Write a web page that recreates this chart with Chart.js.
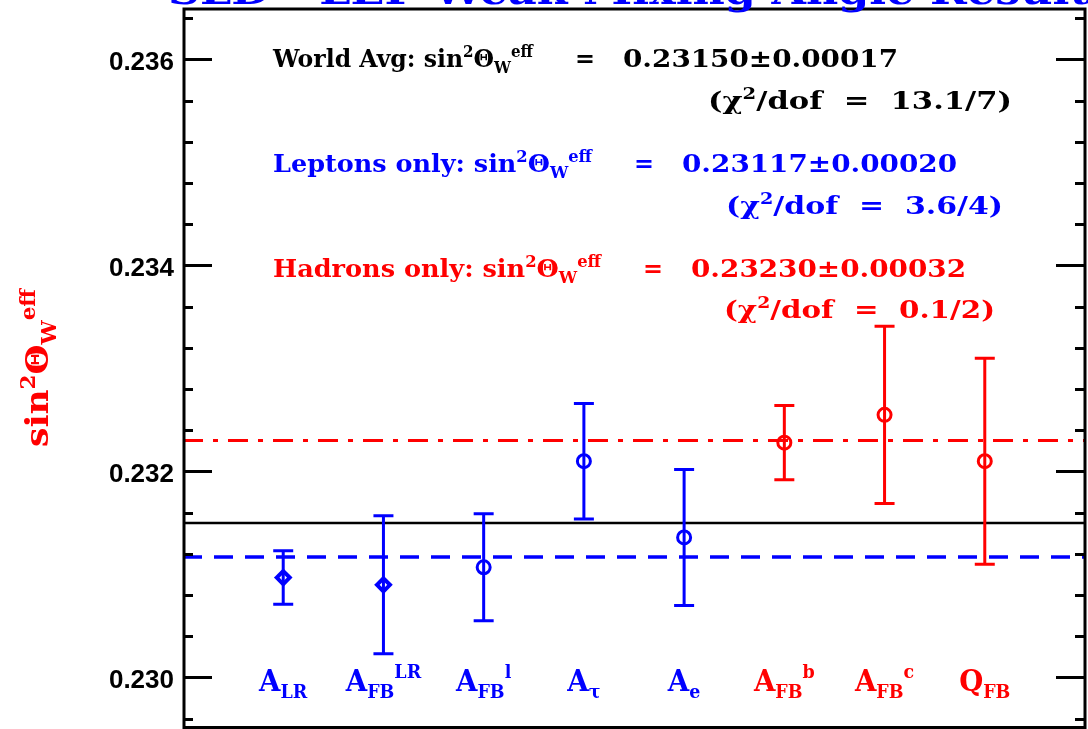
<!DOCTYPE html>
<html>
<head>
<meta charset="utf-8">
<script src="https://cdn.jsdelivr.net/npm/chart.js@4.4.1/dist/chart.umd.min.js"></script>
<style>
html, body { margin: 0; padding: 0; background: #fff; }
#wrap { width: 1088px; height: 729px; }
</style>
</head>
<body>
<div id="wrap"><canvas id="chart" width="1088" height="729"></canvas></div>
<script>
// measurements (x position 1..8)
const categories = ['A_LR', 'A_FB^LR', 'A_FB^l', 'A_tau', 'A_e', 'A_FB^b', 'A_FB^c', 'Q_FB'];
const values = [0.23097, 0.23090, 0.23107, 0.23210, 0.23136, 0.23228, 0.23255, 0.23210];
const errors = [0.00026, 0.00067, 0.00052, 0.00056, 0.00066, 0.00036, 0.00086, 0.00100];
const groups = ['lep', 'lep', 'lep', 'lep', 'lep', 'had', 'had', 'had'];
const markers = ['rectRot', 'rectRot', 'circle', 'circle', 'circle', 'circle', 'circle', 'circle'];

// averages (horizontal lines)
const worldAvg = 0.23150;
const leptonAvg = 0.23117;
const hadronAvg = 0.23230;

// y axis
const yMin = 0.2295, yMax = 0.2365;
const majorTicks = [0.230, 0.232, 0.234, 0.236];
const minorStep = 0.0004;

const BLUE = '#0000ff', RED = '#ff0000';
const groupColor = { lep: BLUE, had: RED };
const SERIF = '"DejaVu Serif", serif';

// rich text labels: [text, kind]  kind = n / sub / sup
const labelParts = {
  'A_LR': [['A', 'n'], ['LR', 'sub']],
  'A_FB^LR': [['A', 'n'], ['FB', 'sub'], ['LR', 'sup']],
  'A_FB^l': [['A', 'n'], ['FB', 'sub'], ['l', 'sup']],
  'A_tau': [['A', 'n'], ['τ', 'sub']],
  'A_e': [['A', 'n'], ['e', 'sub']],
  'A_FB^b': [['A', 'n'], ['FB', 'sub'], ['b', 'sup']],
  'A_FB^c': [['A', 'n'], ['FB', 'sub'], ['c', 'sup']],
  'Q_FB': [['Q', 'n'], ['FB', 'sub']]
};

function sinParts(pre) {
  return [[pre + 'sin', 'n'], ['2', 'sup'], ['Θ', 'n'], ['W', 'sub'], ['eff', 'sup']];
}
function chiParts(post) {
  return [['(χ', 'n'], ['2', 'sup'], ['/dof  =  ' + post + ')', 'n']];
}

function partSize(kind, size) { return kind === 'n' ? size : Math.round(size * 0.62); }

function richWidth(ctx, parts, size) {
  let w = 0;
  parts.forEach(function(p) {
    ctx.font = 'bold ' + partSize(p[1], size) + 'px ' + SERIF;
    w += ctx.measureText(p[0]).width;
  });
  return w;
}

function drawRich(ctx, parts, x0, y, size, color, hs) {
  ctx.save();
  ctx.translate(x0, y);
  ctx.scale(hs, 1);
  ctx.fillStyle = color;
  ctx.textAlign = 'left';
  ctx.textBaseline = 'alphabetic';
  let cx = 0;
  parts.forEach(function(p) {
    ctx.font = 'bold ' + partSize(p[1], size) + 'px ' + SERIF;
    let dy = 0;
    if (p[1] === 'sup') dy = -size * 0.42;
    if (p[1] === 'sub') dy = size * 0.24;
    ctx.fillText(p[0], cx, dy);
    cx += ctx.measureText(p[0]).width;
  });
  ctx.restore();
}

// text squeezed/stretched to span x0..x1
function drawFit(ctx, parts, x0, x1, y, size, color) {
  const w = richWidth(ctx, parts, size);
  drawRich(ctx, parts, x0, y, size, color, (x1 - x0) / w);
}

const decorPlugin = {
  id: 'decor',
  afterDatasetsDraw(chart) {
    const ctx = chart.ctx, xs = chart.scales.x, ys = chart.scales.y;
    // error bars
    ctx.save();
    ctx.lineWidth = 3;
    values.forEach(function(v, i) {
      const px = xs.getPixelForValue(i + 1);
      const top = ys.getPixelForValue(v + errors[i]);
      const bot = ys.getPixelForValue(v - errors[i]);
      ctx.strokeStyle = groupColor[groups[i]];
      ctx.beginPath();
      ctx.moveTo(px, top); ctx.lineTo(px, bot);
      ctx.moveTo(px - 10, top); ctx.lineTo(px + 10, top);
      ctx.moveTo(px - 10, bot); ctx.lineTo(px + 10, bot);
      ctx.stroke();
    });
    ctx.restore();
  },
  afterDraw(chart) {
    const ctx = chart.ctx, ca = chart.chartArea, xs = chart.scales.x, ys = chart.scales.y;
    ctx.save();
    // frame
    ctx.strokeStyle = '#000';
    ctx.lineWidth = 3;
    ctx.strokeRect(ca.left + 1, ca.top + 1, ca.right - ca.left - 1, ca.bottom - ca.top - 2.5);
    // ticks (inward, both sides)
    ctx.beginPath();
    for (let v = 0.2296; v < yMax; v += minorStep) {
      const y = Math.round(ys.getPixelForValue(v)) + 0.5;
      const major = majorTicks.some(function(t) { return Math.abs(t - v) < 1e-6; });
      const len = major ? 29 : 10;
      ctx.moveTo(ca.left, y); ctx.lineTo(ca.left + len, y);
      ctx.moveTo(ca.right, y); ctx.lineTo(ca.right - len, y);
    }
    ctx.stroke();

    // title (cut off at the top)
    drawFit(ctx, [['SLD - LEP Weak Mixing Angle Results', 'n']], 168, 1115, 4, 38, BLUE);

    // fit result texts
    drawFit(ctx, sinParts('World Avg: '), 273, 533, 67, 25, '#000');
    drawFit(ctx, [['=', 'n']], 575, 595, 67, 25, '#000');
    drawFit(ctx, [['0.23150±0.00017', 'n']], 623, 898, 67, 25, '#000');
    drawFit(ctx, chiParts('13.1/7'), 708, 1012, 109, 25, '#000');

    drawFit(ctx, sinParts('Leptons only: '), 273, 592, 172, 25, BLUE);
    drawFit(ctx, [['=', 'n']], 634, 654, 172, 25, BLUE);
    drawFit(ctx, [['0.23117±0.00020', 'n']], 682, 957, 172, 25, BLUE);
    drawFit(ctx, chiParts('3.6/4'), 726, 1003, 214, 25, BLUE);

    drawFit(ctx, sinParts('Hadrons only: '), 273, 601, 277, 25, RED);
    drawFit(ctx, [['=', 'n']], 643, 663, 277, 25, RED);
    drawFit(ctx, [['0.23230±0.00032', 'n']], 691, 966, 277, 25, RED);
    drawFit(ctx, chiParts('0.1/2'), 724, 995, 318, 25, RED);

    // category labels
    categories.forEach(function(c, i) {
      const parts = labelParts[c];
      const w = richWidth(ctx, parts, 30) * 0.92;
      const cx = xs.getPixelForValue(i + 1);
      drawRich(ctx, parts, cx - w / 2, 691, 30, groupColor[groups[i]], 0.92);
    });

    // y axis title
    ctx.save();
    ctx.translate(48, 368);
    ctx.rotate(-Math.PI / 2);
    drawFit(ctx, sinParts(''), -79, 79, 0, 32, RED);
    ctx.restore();
    ctx.restore();
  }
};

function hline(y, color, dash, width) {
  return {
    type: 'line',
    data: [{ x: 0, y: y }, { x: 9, y: y }],
    borderColor: color,
    borderWidth: width,
    borderDash: dash,
    pointRadius: 0,
    fill: false
  };
}

new Chart(document.getElementById('chart'), {
  type: 'scatter',
  data: {
    datasets: [
      hline(worldAvg, '#000', [], 2.5),
      hline(leptonAvg, BLUE, [19, 12], 3.5),
      hline(hadronAvg, RED, [20, 10, 5, 10], 3),
      {
        type: 'scatter',
        data: values.map(function(v, i) { return { x: i + 1, y: v }; }),
        pointStyle: markers,
        pointRadius: 6.5,
        pointBorderWidth: markers.map(function(m) { return m === 'circle' ? 3 : 4; }),
        pointBorderColor: groups.map(function(g) { return groupColor[g]; }),
        pointBackgroundColor: 'rgba(0,0,0,0)'
      }
    ]
  },
  options: {
    responsive: false,
    animation: false,
    devicePixelRatio: 1,
    layout: { autoPadding: false, padding: { top: 8, right: 3, bottom: 0, left: 0 } },
    plugins: { legend: { display: false }, tooltip: { enabled: false } },
    scales: {
      x: { type: 'linear', min: 0, max: 9, display: false },
      y: {
        type: 'linear',
        min: yMin,
        max: yMax,
        afterBuildTicks: function(s) { s.ticks = majorTicks.map(function(v) { return { value: v }; }); },
        afterFit: function(s) { s.width = 183; s.paddingTop = 0; s.paddingBottom = 0; },
        grid: { display: false, drawTicks: false },
        border: { display: false },
        ticks: {
          padding: 9,
          labelOffset: 3,
          color: '#000',
          font: { family: '"Liberation Sans"', weight: 'bold', size: 26 },
          callback: function(v) { return v.toFixed(3); }
        }
      }
    }
  },
  plugins: [decorPlugin]
});
</script>
</body>
</html>
